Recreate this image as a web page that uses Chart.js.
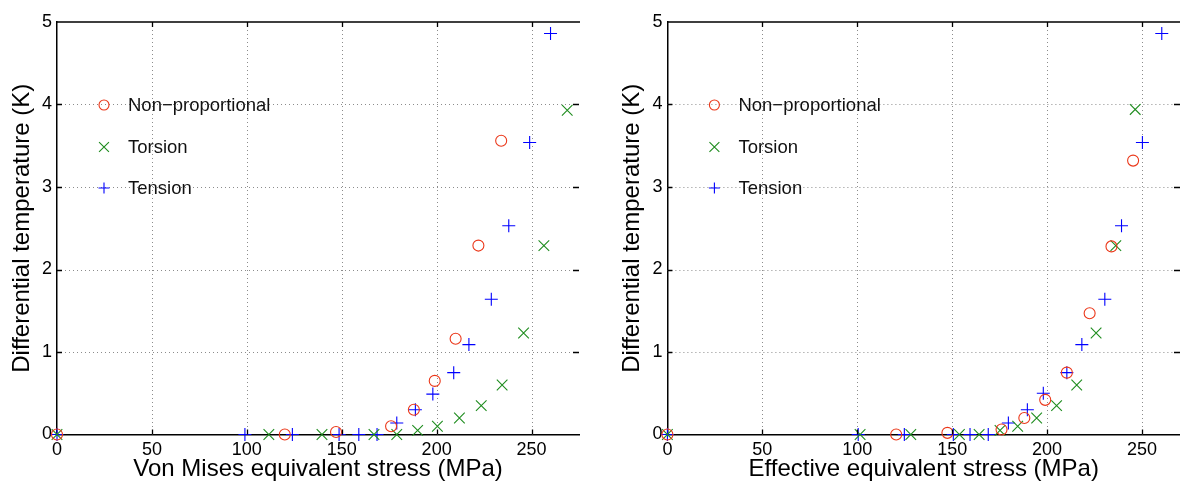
<!DOCTYPE html>
<html lang="en">
<head>
<meta charset="utf-8">
<title>Differential temperature vs equivalent stress</title>
<style>
  html, body { margin: 0; padding: 0; background: #fff; }
  body { width: 1180px; height: 484px; position: relative; overflow: hidden; }
  .panel { position: absolute; top: 0; height: 484px; }
  #left { left: 0; width: 590px; }
  #right { left: 610px; width: 580px; }
</style>
</head>
<body>
<div class="panel" id="left"><canvas id="c1"></canvas></div>
<div class="panel" id="right"><canvas id="c2"></canvas></div>

<script src="https://cdn.jsdelivr.net/npm/chart.js@4"></script>
<script>
// left panel: Von Mises equivalent stress
const vmNonPropX = [0, 120, 147, 176, 188, 199, 210, 222, 234];
const vmNonPropY = [0, 0, 0.03, 0.1, 0.3, 0.65, 1.16, 2.29, 3.56];
const vmTorsionX = [0, 111.6, 139.6, 167, 179, 190, 200.4, 212, 223.5, 234.5, 245.8, 256.5, 268.8];
const vmTorsionY = [0, 0, 0, 0, 0, 0.05, 0.1, 0.2, 0.35, 0.6, 1.23, 2.29, 3.93];
const vmTensionX = [0, 99, 124, 148.6, 159, 168.6, 179, 188.8, 198, 209, 217, 228.8, 238, 249, 260];
const vmTensionY = [0, 0, 0, 0, 0, 0, 0.14, 0.3, 0.49, 0.75, 1.09, 1.64, 2.53, 3.54, 4.86];

// right panel: effective equivalent stress
const effNonPropX = [0, 120.5, 147.5, 176, 188, 199, 210.4, 222.4, 233.9, 245.3];
const effNonPropY = [0, 0, 0.02, 0.06, 0.2, 0.42, 0.75, 1.47, 2.28, 3.32];
const effTorsionX = [0, 101.5, 128.2, 153.8, 164.2, 175.2, 184.5, 194.5, 205, 215.6, 225.8, 236.2, 246.4];
const effTorsionY = [0, 0, 0, 0, 0, 0.05, 0.1, 0.2, 0.35, 0.6, 1.23, 2.29, 3.94];
const effTensionX = [0, 100.5, 124.8, 150.6, 159.4, 169, 179.6, 189.6, 198, 210.4, 218.3, 230.4, 239.2, 250.2, 260.4];
const effTensionY = [0, 0, 0, 0, 0, 0, 0.14, 0.3, 0.5, 0.75, 1.09, 1.64, 2.53, 3.54, 4.86];

const seriesNames = ['Non\u2212proportional', 'Torsion', 'Tension'];
const xTicks = [0, 50, 100, 150, 200, 250];
const yTicks = [0, 1, 2, 3, 4, 5];

const RED = 'rgb(235,55,25)', GREEN = 'rgb(30,140,30)', BLUE = 'rgb(0,0,255)';
const FONT = '"Liberation Sans", Arial, Helvetica, sans-serif';

function pts(xs, ys) { return xs.map((x, i) => ({ x: x, y: ys[i] })); }

// dotted grid (under the marks)
const gridPlugin = {
  id: 'dotgrid',
  beforeDatasetsDraw(chart) {
    const ctx = chart.ctx, a = chart.chartArea;
    const xs = chart.scales.x, ys = chart.scales.y;
    ctx.save();
    ctx.strokeStyle = '#8c8c8c';
    ctx.lineWidth = 1;
    ctx.setLineDash([1, 3]);
    ctx.beginPath();
    xs.ticks.forEach(t => {
      if (t.value === 0) return;
      const p = Math.round(xs.getPixelForValue(t.value)) + 0.5;
      ctx.moveTo(p, a.top); ctx.lineTo(p, a.bottom);
    });
    ys.ticks.forEach(t => {
      if (t.value === 0 || t.value === 5) return;
      const p = Math.round(ys.getPixelForValue(t.value)) + 0.5;
      ctx.moveTo(a.left, p); ctx.lineTo(a.right, p);
    });
    ctx.stroke();
    ctx.restore();
  }
};

// inward tick marks, top border, in-plot legend
const framePlugin = {
  id: 'frame',
  afterDatasetsDraw(chart) {
    const ctx = chart.ctx, a = chart.chartArea;
    const xs = chart.scales.x, ys = chart.scales.y;
    ctx.save();
    ctx.strokeStyle = '#000';
    ctx.lineWidth = 1.3;
    ctx.beginPath();
    ctx.moveTo(a.left, a.top); ctx.lineTo(a.right + 1, a.top);
    xs.ticks.forEach(t => {
      if (t.value === 0) return;
      const p = Math.round(xs.getPixelForValue(t.value)) + 0.5;
      ctx.moveTo(p, a.bottom); ctx.lineTo(p, a.bottom - 5);
      ctx.moveTo(p, a.top); ctx.lineTo(p, a.top + 5);
    });
    ys.ticks.forEach(t => {
      if (t.value === 0 || t.value === 5) return;
      const p = Math.round(ys.getPixelForValue(t.value)) + 0.5;
      ctx.moveTo(a.left, p); ctx.lineTo(a.left + 5, p);
      ctx.moveTo(a.right, p); ctx.lineTo(a.right - 6, p);
    });
    ctx.stroke();

    // legend
    const mx = a.left + 47, tx = a.left + 71;
    const rows = [a.top + 83, a.top + 125, a.top + 166];
    chart.data.datasets.forEach((ds, i) => {
      ctx.strokeStyle = ds.borderColor;
      ctx.fillStyle = ds.backgroundColor;
      ctx.lineWidth = 1.1;
      Chart.helpers.drawPoint(ctx, {
        pointStyle: ds.pointStyle,
        radius: ds.legendRadius,
        borderWidth: 1.1,
        rotation: 0
      }, mx, rows[i]);
      ctx.fillStyle = '#111';
      ctx.font = '18.5px ' + FONT;
      ctx.textBaseline = 'middle';
      ctx.fillText(ds.label, tx, rows[i] + 1);
    });
    ctx.restore();
  }
};

function makeChart(id, xMax, xTitle, yWidth, padRight, np, to, te) {
  return new Chart(document.getElementById(id), {
    type: 'scatter',
    data: {
      datasets: [
        { label: seriesNames[0], data: np, pointStyle: 'circle', pointRadius: 5.5, legendRadius: 5,
          borderColor: RED, backgroundColor: 'rgba(0,0,0,0)', pointBorderWidth: 1.1, clip: false },
        { label: seriesNames[1], data: to, pointStyle: 'crossRot', pointRadius: 7.5, legendRadius: 7,
          borderColor: GREEN, backgroundColor: GREEN, pointBorderWidth: 1.1, clip: false },
        { label: seriesNames[2], data: te, pointStyle: 'cross', pointRadius: 6.5, legendRadius: 5.5,
          borderColor: BLUE, backgroundColor: BLUE, pointBorderWidth: 1.1, clip: false }
      ]
    },
    options: {
      responsive: true,
      maintainAspectRatio: false,
      animation: false,
      events: [],
      layout: { padding: { top: 22, right: padRight, left: 0, bottom: 0 } },
      plugins: { legend: { display: false }, tooltip: { enabled: false } },
      scales: {
        x: {
          type: 'linear', min: 0, max: xMax,
          afterFit: s => { s.height = 49.5; },
          afterBuildTicks: s => { s.ticks = xTicks.map(v => ({ value: v })); },
          ticks: { color: '#000', padding: 5, maxRotation: 0,
                   font: { family: FONT, size: 18 } },
          grid: { color: 'rgba(0,0,0,0)', drawTicks: false },
          border: { display: true, color: '#000', width: 1.5 },
          title: { display: true, text: xTitle, color: '#000', padding: 0,
                   font: { family: FONT, size: 24 } }
        },
        y: {
          type: 'linear', min: 0, max: 5,
          afterFit: s => { s.width = yWidth; },
          afterBuildTicks: s => { s.ticks = yTicks.map(v => ({ value: v })); },
          ticks: { color: '#000', padding: 5, font: { family: FONT, size: 18 } },
          grid: { color: 'rgba(0,0,0,0)', drawTicks: false },
          border: { display: true, color: '#000', width: 1.5 },
          title: { display: true, text: 'Differential temperature (K)', color: '#000',
                   padding: { top: 8, bottom: 0 }, font: { family: FONT, size: 24 } }
        }
      }
    },
    plugins: [gridPlugin, framePlugin]
  });
}

makeChart('c1', 275, 'Von Mises equivalent stress (MPa)', 57, 11,
  pts(vmNonPropX, vmNonPropY), pts(vmTorsionX, vmTorsionY), pts(vmTensionX, vmTensionY));
// right canvas runs past the page edge and is cropped there, as in the source figure
makeChart('c2', 270, 'Effective equivalent stress (MPa)', 57.4, 10,
  pts(effNonPropX, effNonPropY), pts(effTorsionX, effTorsionY), pts(effTensionX, effTensionY));
</script>
</body>
</html>
